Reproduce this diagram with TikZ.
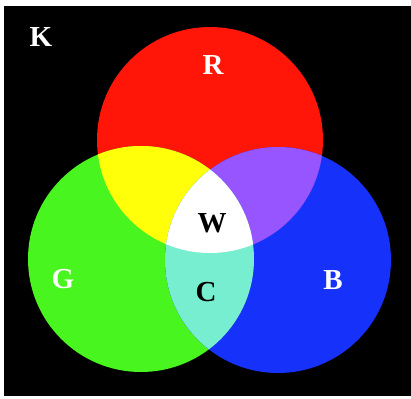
\documentclass[tikz,border=0pt]{standalone}
\usepackage{fontspec}
\setmainfont{Liberation Serif}
\definecolor{cR}{RGB}{255,22,8}
\definecolor{cG}{RGB}{72,245,30}
\definecolor{cB}{RGB}{22,50,250}
\definecolor{cY}{RGB}{255,255,10}
\definecolor{cM}{RGB}{150,85,255}
\definecolor{cC}{RGB}{120,238,208}
\definecolor{cW}{RGB}{255,255,255}
\begin{document}
\begin{tikzpicture}[x=1pt,y=-1pt,
  lbl/.style={font=\fontsize{29}{29}\selectfont\bfseries, inner sep=0pt}]
\useasboundingbox (0,0) rectangle (411,398);
\fill[white] (0,0) rectangle (411,398);
\fill[black] (4,6) rectangle (411,396);
\def\rad{113}
\coordinate (rc) at (210,140);
\coordinate (gc) at (141,259);
\coordinate (bc) at (278,260);
\fill[cR] (rc) circle (\rad);
\fill[cG] (gc) circle (\rad);
\fill[cB] (bc) circle (\rad);
\begin{scope}
  \clip (rc) circle (\rad);
  \fill[cY] (gc) circle (\rad);
  \fill[cM] (bc) circle (\rad);
\end{scope}
\begin{scope}
  \clip (gc) circle (\rad);
  \fill[cC] (bc) circle (\rad);
  \clip (bc) circle (\rad);
  \fill[cW] (rc) circle (\rad);
\end{scope}
\node[lbl, text=white] (k) at (41,37) {K};
\node[lbl, text=white] (r) at (213,65) {R};
\node[lbl, text=black] (w) at (212,223) {W};
\node[lbl, text=white] (g) at (63,279) {G};
\node[lbl, text=black] (c) at (206,292) {C};
\node[lbl, text=white] (b) at (333,280) {B};
\end{tikzpicture}
\end{document}
